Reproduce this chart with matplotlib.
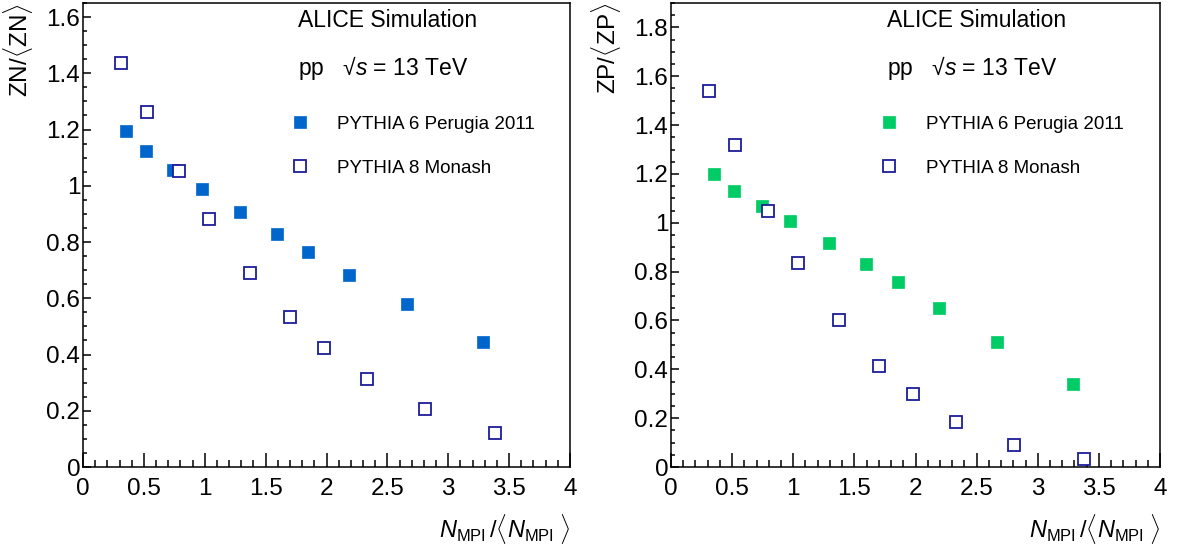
import matplotlib
matplotlib.use('Agg')
import matplotlib.pyplot as plt
from matplotlib.ticker import MultipleLocator, FormatStrFormatter

plt.rcParams['font.family'] = ['Liberation Sans', 'DejaVu Sans']
plt.rcParams['mathtext.fontset'] = 'custom'
plt.rcParams['mathtext.rm'] = 'Liberation Sans'
plt.rcParams['mathtext.it'] = 'Liberation Sans:italic'

# ZN panel
zn_p6_x = [0.352, 0.515, 0.741, 0.975, 1.293, 1.596, 1.849, 2.188, 2.660, 3.287]
zn_p6_y = [1.195, 1.124, 1.055, 0.990, 0.908, 0.829, 0.766, 0.684, 0.578, 0.446]
zn_p8_x = [0.312, 0.522, 0.790, 1.037, 1.370, 1.704, 1.978, 2.330, 2.806, 3.383]
zn_p8_y = [1.436, 1.261, 1.051, 0.882, 0.690, 0.532, 0.423, 0.313, 0.207, 0.120]

# ZP panel
zp_p6_x = [0.350, 0.517, 0.747, 0.975, 1.294, 1.599, 1.854, 2.189, 2.666, 3.287]
zp_p6_y = [1.198, 1.130, 1.070, 1.008, 0.918, 0.833, 0.756, 0.650, 0.511, 0.341]
zp_p8_x = [0.313, 0.523, 0.790, 1.036, 1.374, 1.703, 1.980, 2.330, 2.804, 3.382]
zp_p8_y = [1.539, 1.318, 1.047, 0.836, 0.600, 0.412, 0.297, 0.185, 0.090, 0.033]

label_p6 = 'PYTHIA 6 Perugia 2011'
label_p8 = 'PYTHIA 8 Monash'
xlabel = r'$N_{\rm MPI}\,/\langle N_{\rm MPI}\;\rangle$'

fig = plt.figure(figsize=(11.78, 5.50), dpi=100)
W, H = 1178.0, 550.0


def panel(rect, p6x, p6y, p8x, p8y, ymax, ylabel, fillcol):
    ax = fig.add_axes(rect)
    ax.plot(p6x, p6y, 's', ms=8.6, mfc=fillcol, mec=fillcol, mew=0.5, ls='none', label=label_p6)
    ax.plot(p8x, p8y, 's', ms=8.0, mfc='white', mec='#1c1c99', mew=1.3, ls='none', label=label_p8)
    ax.set_xlim(0, 4)
    ax.set_ylim(0, ymax)
    ax.xaxis.set_major_locator(MultipleLocator(0.5))
    ax.xaxis.set_minor_locator(MultipleLocator(0.1))
    ax.yaxis.set_major_locator(MultipleLocator(0.2))
    ax.yaxis.set_minor_locator(MultipleLocator(0.05))
    ax.xaxis.set_major_formatter(FormatStrFormatter('%g'))
    ax.yaxis.set_major_formatter(FormatStrFormatter('%g'))
    ax.tick_params(which='both', direction='in', top=False, right=False, labelsize=17.5, width=1.1)
    ax.tick_params(axis='x', which='major', length=10, pad=8)
    ax.tick_params(axis='x', which='minor', length=5)
    ax.tick_params(axis='y', which='major', length=6, pad=2)
    ax.tick_params(axis='y', which='minor', length=3)
    for s in ax.spines.values():
        s.set_linewidth(1.1)
    ax.set_ylabel(ylabel, fontsize=17.5, loc='top')
    ax.yaxis.set_label_coords(-48 / (rect[2] * W), 1.0)
    ax.set_xlabel(xlabel, fontsize=17, loc='right')
    ax.xaxis.set_label_coords(1.0, -45 / (rect[3] * H))
    ax.text(0.441, 0.963, 'ALICE Simulation', transform=ax.transAxes, fontsize=16.5, va='center')
    ax.text(0.441, 0.860, r'pp   √$s$ = 13 TeV', transform=ax.transAxes, fontsize=16.5, va='center')
    ax.legend(loc='upper left', bbox_to_anchor=(0.4075, 0.777), frameon=False, fontsize=13.5,
              numpoints=1, borderpad=0, handlelength=1.0, handletextpad=1.45, labelspacing=1.41)
    return ax


bottom = 1 - 467 / H
height = 464 / H
panel([83 / W, bottom, 487 / W, height], zn_p6_x, zn_p6_y, zn_p8_x, zn_p8_y, 1.65,
      r'ZN/$\langle$ZN$\rangle$', '#0066cc')
panel([671 / W, bottom, 489 / W, height], zp_p6_x, zp_p6_y, zp_p8_x, zp_p8_y, 1.9,
      r'ZP/$\langle$ZP$\rangle$', '#00cc66')

fig.savefig('out.png', dpi=100)
